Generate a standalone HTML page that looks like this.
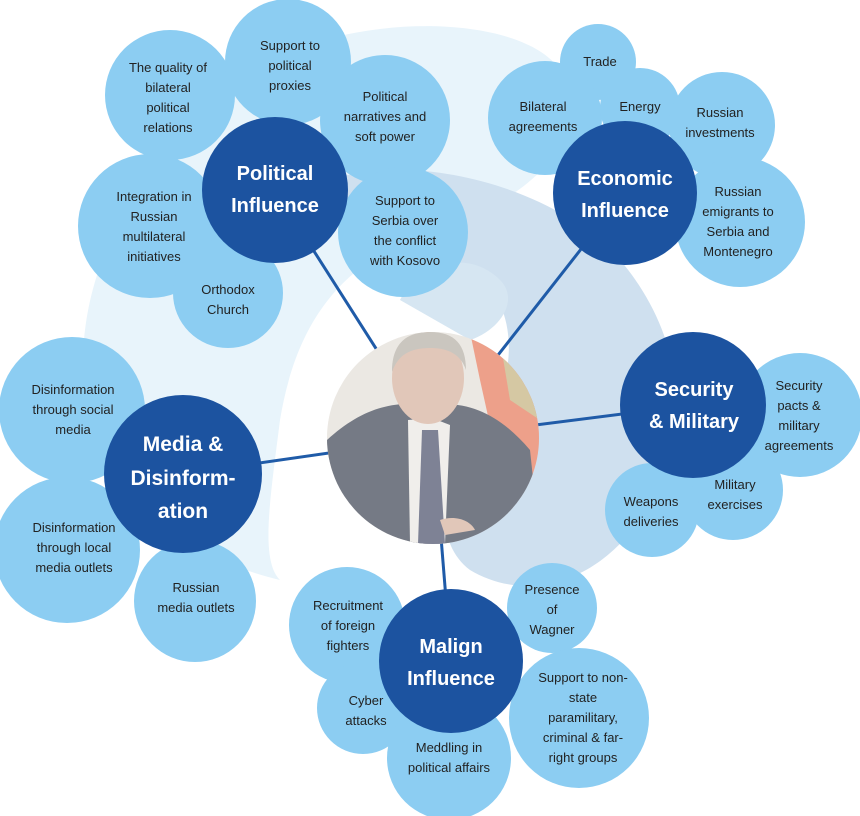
<!DOCTYPE html>
<html><head><meta charset="utf-8"><style>
html,body{margin:0;padding:0;background:#fff;}
svg{display:block;}
text{font-family:"Liberation Sans",sans-serif;}
.l{fill:#8ccdf2;}
.d{fill:#1c53a0;}
.lt{font-size:13px;fill:#222;text-anchor:middle;}
.dt{font-size:20px;font-weight:bold;fill:#fff;text-anchor:middle;}
</style></head><body>
<svg width="860" height="816" viewBox="0 0 860 816" xmlns="http://www.w3.org/2000/svg">
<!-- background swirls -->
<path d="M240 80 C330 10 520 10 560 70 C600 140 520 200 460 220 C360 250 300 300 280 420 C270 500 260 560 280 580 C200 560 120 520 90 420 C60 300 130 160 240 80 Z" fill="#e8f4fb"/>
<path d="M330 180 C420 150 560 190 620 260 C680 330 700 430 640 520 C590 590 520 600 470 570 C430 540 440 470 480 430 C520 380 520 300 470 270 C420 240 360 250 330 180 Z" fill="#cfe0ef"/>
<path d="M400 300 C420 260 470 250 500 280 C520 300 500 330 470 340 Z" fill="#d6e6f2"/>
<!-- connectors -->
<g stroke="#1f5ba8" stroke-width="3">
<line x1="433" y1="438" x2="275" y2="190"/>
<line x1="433" y1="438" x2="625" y2="193"/>
<line x1="433" y1="438" x2="693" y2="405"/>
<line x1="433" y1="438" x2="183" y2="474"/>
<line x1="433" y1="438" x2="451" y2="661"/>
</g>
<!-- Political -->
<circle class="l" cx="170" cy="95" r="65"/>
<circle class="l" cx="288" cy="62" r="63"/>
<circle class="l" cx="385" cy="120" r="65"/>
<circle class="l" cx="150" cy="226" r="72"/>
<circle class="l" cx="228" cy="293" r="55"/>
<circle class="l" cx="403" cy="232" r="65"/>
<circle class="d" cx="275" cy="190" r="73"/>
<text class="lt"><tspan x="168" y="72">The quality of</tspan><tspan x="168" y="92">bilateral</tspan><tspan x="168" y="112">political</tspan><tspan x="168" y="132">relations</tspan></text>
<text class="lt"><tspan x="290" y="50">Support to</tspan><tspan x="290" y="70">political</tspan><tspan x="290" y="90">proxies</tspan></text>
<text class="lt"><tspan x="385" y="101">Political</tspan><tspan x="385" y="121">narratives and</tspan><tspan x="385" y="141">soft power</tspan></text>
<text class="lt"><tspan x="154" y="201">Integration in</tspan><tspan x="154" y="221">Russian</tspan><tspan x="154" y="241">multilateral</tspan><tspan x="154" y="261">initiatives</tspan></text>
<text class="lt"><tspan x="228" y="294">Orthodox</tspan><tspan x="228" y="314">Church</tspan></text>
<text class="lt"><tspan x="405" y="205">Support to</tspan><tspan x="405" y="225">Serbia over</tspan><tspan x="405" y="245">the conflict</tspan><tspan x="405" y="265">with Kosovo</tspan></text>
<text class="dt"><tspan x="275" y="180">Political</tspan><tspan x="275" y="212">Influence</tspan></text>
<!-- Economic -->
<circle class="l" cx="598" cy="62" r="38"/>
<circle class="l" cx="545" cy="118" r="57"/>
<circle class="l" cx="640" cy="108" r="40"/>
<circle class="l" cx="722" cy="125" r="53"/>
<circle class="l" cx="740" cy="222" r="65"/>
<circle class="d" cx="625" cy="193" r="72"/>
<text class="lt"><tspan x="600" y="66">Trade</tspan></text>
<text class="lt"><tspan x="543" y="111">Bilateral</tspan><tspan x="543" y="131">agreements</tspan></text>
<text class="lt"><tspan x="640" y="111">Energy</tspan></text>
<text class="lt"><tspan x="720" y="117">Russian</tspan><tspan x="720" y="137">investments</tspan></text>
<text class="lt"><tspan x="738" y="196">Russian</tspan><tspan x="738" y="216">emigrants to</tspan><tspan x="738" y="236">Serbia and</tspan><tspan x="738" y="256">Montenegro</tspan></text>
<text class="dt"><tspan x="625" y="185">Economic</tspan><tspan x="625" y="217">Influence</tspan></text>
<!-- Security -->
<circle class="l" cx="800" cy="415" r="62"/>
<circle class="l" cx="733" cy="490" r="50"/>
<circle class="l" cx="652" cy="510" r="47"/>
<circle class="d" cx="693" cy="405" r="73"/>
<text class="lt"><tspan x="799" y="390">Security</tspan><tspan x="799" y="410">pacts &amp;</tspan><tspan x="799" y="430">military</tspan><tspan x="799" y="450">agreements</tspan></text>
<text class="lt"><tspan x="735" y="489">Military</tspan><tspan x="735" y="509">exercises</tspan></text>
<text class="lt"><tspan x="651" y="506">Weapons</tspan><tspan x="651" y="526">deliveries</tspan></text>
<text class="dt"><tspan x="694" y="396">Security</tspan><tspan x="694" y="428">&amp; Military</tspan></text>
<!-- Media -->
<circle class="l" cx="72" cy="410" r="73"/>
<circle class="l" cx="67" cy="550" r="73"/>
<circle class="l" cx="195" cy="601" r="61"/>
<circle class="d" cx="183" cy="474" r="79"/>
<text class="lt"><tspan x="73" y="394">Disinformation</tspan><tspan x="73" y="414">through social</tspan><tspan x="73" y="434">media</tspan></text>
<text class="lt"><tspan x="74" y="532">Disinformation</tspan><tspan x="74" y="552">through local</tspan><tspan x="74" y="572">media outlets</tspan></text>
<text class="lt"><tspan x="196" y="592">Russian</tspan><tspan x="196" y="612">media outlets</tspan></text>
<text class="dt" style="font-size:21px"><tspan x="183" y="451">Media &amp;</tspan><tspan x="183" y="485">Disinform-</tspan><tspan x="183" y="518">ation</tspan></text>
<!-- Malign -->
<circle class="l" cx="347" cy="625" r="58"/>
<circle class="l" cx="552" cy="608" r="45"/>
<circle class="l" cx="363" cy="708" r="46"/>
<circle class="l" cx="449" cy="758" r="62"/>
<circle class="l" cx="579" cy="718" r="70"/>
<circle class="d" cx="451" cy="661" r="72"/>
<text class="lt"><tspan x="348" y="610">Recruitment</tspan><tspan x="348" y="630">of foreign</tspan><tspan x="348" y="650">fighters</tspan></text>
<text class="lt"><tspan x="552" y="594">Presence</tspan><tspan x="552" y="614">of</tspan><tspan x="552" y="634">Wagner</tspan></text>
<text class="lt"><tspan x="366" y="705">Cyber</tspan><tspan x="366" y="725">attacks</tspan></text>
<text class="lt"><tspan x="449" y="752">Meddling in</tspan><tspan x="449" y="772">political affairs</tspan></text>
<text class="lt"><tspan x="583" y="682">Support to non-</tspan><tspan x="583" y="702">state</tspan><tspan x="583" y="722">paramilitary,</tspan><tspan x="583" y="742">criminal &amp; far-</tspan><tspan x="583" y="762">right groups</tspan></text>
<text class="dt"><tspan x="451" y="653">Malign</tspan><tspan x="451" y="685">Influence</tspan></text>
<!-- photo -->
<defs><clipPath id="c"><circle cx="433" cy="438" r="106"/></clipPath></defs>
<g clip-path="url(#c)">
<rect x="327" y="332" width="212" height="212" fill="#e6e2dc"/>
<path d="M470 332 L540 332 L540 480 L500 470 L480 380 Z" fill="#e8866a"/>
<path d="M500 340 L540 360 L540 420 L510 400 Z" fill="#c9b98a"/>
<path d="M327 440 C360 410 390 400 430 405 C470 400 500 415 530 450 L540 544 L327 544 Z" fill="#4f5563"/>
<path d="M408 420 L432 418 L450 425 L445 544 L410 544 Z" fill="#ece9e6"/>
<path d="M422 430 L438 430 L445 544 L418 544 Z" fill="#5a5f78"/>
<ellipse cx="428" cy="378" rx="36" ry="46" fill="#d9b8a6"/>
<path d="M392 372 C392 340 410 332 430 332 C455 332 466 345 466 370 C460 352 445 348 430 348 C410 348 398 355 392 372 Z" fill="#bcb6ae"/>
<path d="M440 520 C455 515 470 520 475 530 L445 535 Z" fill="#d9b8a6"/>
<rect x="327" y="332" width="212" height="212" fill="#fff" opacity="0.22"/>
</g>
</svg>
</body></html>
